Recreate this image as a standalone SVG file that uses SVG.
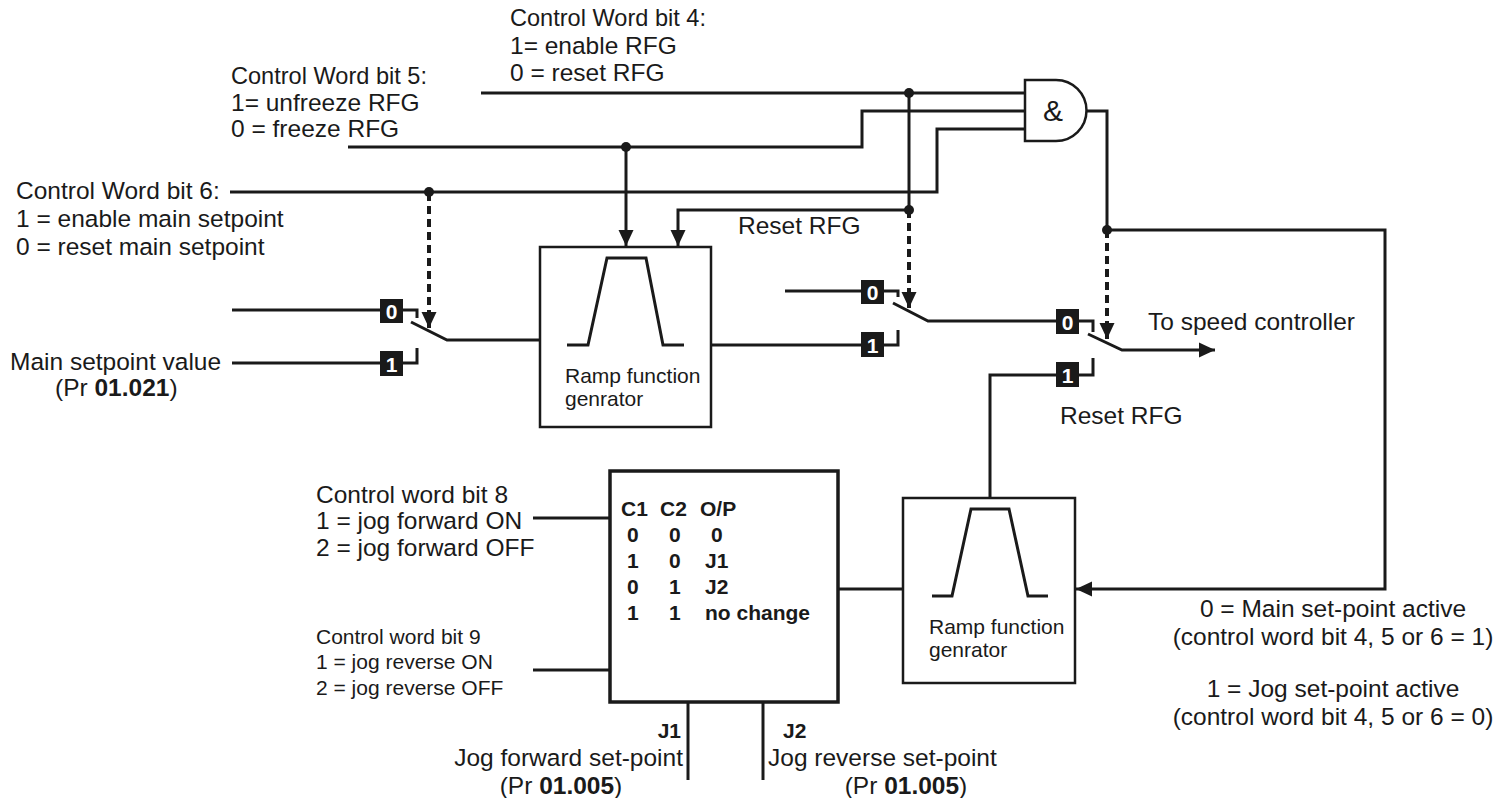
<svg xmlns="http://www.w3.org/2000/svg" width="1500" height="798" viewBox="0 0 1500 798">
<defs>
<marker id="ah" markerUnits="userSpaceOnUse" markerWidth="16" markerHeight="16" viewBox="0 0 16 16" refX="16" refY="8" orient="auto">
<path d="M0,0.5 L16,8 L0,15.5 Z" fill="#1a1a1a"/>
</marker>
</defs>
<style>
.t{font-family:"Liberation Sans",Arial,sans-serif;font-size:24.5px;fill:#1a1a1a}
.s{font-size:21px}
.b{font-weight:bold}
.w{stroke:#1a1a1a;stroke-width:3;fill:none}
.d{stroke:#1a1a1a;stroke-width:4;stroke-dasharray:8 5;fill:none}
.box{fill:#fff;stroke:#1a1a1a;stroke-width:2.5}
.lab{fill:#1a1a1a}
.lt{font-family:"Liberation Sans",Arial,sans-serif;font-weight:bold;font-size:21px;fill:#fff;text-anchor:middle}
.dot{fill:#1a1a1a}
</style>
<rect width="1500" height="798" fill="#fff"/>

<g id="connectors">
<!-- bit 4 -->
<path class="w" d="M481,93 H1025"/>
<path class="w" d="M909,93 V210"/>
<path class="w" d="M909,210 H678 V246" marker-end="url(#ah)"/>
<!-- bit 5 -->
<path class="w" d="M348,147 H862 V111 H1025"/>
<path class="w" d="M626,147 V246" marker-end="url(#ah)"/>
<!-- bit 6 -->
<path class="w" d="M230,192 H937 V129 H1025"/>
<!-- gate output -->
<path class="w" d="M1087,111 H1107 V230 H1385 V589 H1076" marker-end="url(#ah)"/>
<!-- dotted controls -->
<path class="d" d="M429,193 V328" marker-end="url(#ah)"/>
<path class="d" d="M909,210 V308" marker-end="url(#ah)"/>
<path class="d" d="M1107,230 V339" marker-end="url(#ah)"/>
<!-- switch 1 -->
<path class="w" d="M232,310 H417 V318"/>
<path class="w" d="M232,363 H417 V348"/>
<path class="w" d="M411,322 L447,340 H540"/>
<!-- switch 2 -->
<path class="w" d="M785,291 H898 V297"/>
<path class="w" d="M711,345 H898 V330"/>
<path class="w" d="M893,303 L928,321 H1093 V332"/>
<!-- switch 3 -->
<path class="w" d="M990,498 V375 H1093 V358"/>
<path class="w" d="M1088,334 L1122,350 H1215" marker-end="url(#ah)"/>
<!-- jog -->
<path class="w" d="M533,518 H610"/>
<path class="w" d="M533,670 H610"/>
<path class="w" d="M838,589 H903"/>
<path class="w" d="M688,702 V780"/>
<path class="w" d="M763,702 V780"/>
<!-- junction dots -->
<circle class="dot" cx="909" cy="93" r="5"/>
<circle class="dot" cx="909" cy="210" r="5"/>
<circle class="dot" cx="626" cy="147" r="5"/>
<circle class="dot" cx="429" cy="192" r="5"/>
<circle class="dot" cx="1107" cy="230" r="5"/>
</g>

<g id="and-gate">
<path d="M1025,80 H1056 A30.5,30.5 0 0 1 1056,141 H1025 Z" fill="#fff" stroke="#1a1a1a" stroke-width="2.5"/>
<text class="t" x="1053" y="121" text-anchor="middle" style="font-size:30px">&amp;</text>
</g>

<g id="rfg1">
<rect class="box" x="540" y="247" width="171" height="180"/>
<path class="w" d="M567,345 H588 L607,258 H646 L663,345 H684"/>
<text class="t s" x="565" y="383">Ramp function</text>
<text class="t s" x="565" y="406">genrator</text>
</g>

<g id="rfg2">
<rect class="box" x="903" y="498" width="172" height="185"/>
<path class="w" d="M932,596 H952 L971,509 H1009 L1028,596 H1048"/>
<text class="t s" x="929" y="634">Ramp function</text>
<text class="t s" x="929" y="657">genrator</text>
</g>

<g id="jog-logic">
<rect x="610" y="471" width="228" height="231" fill="#fff" stroke="#1a1a1a" stroke-width="3.5"/>
<g class="t b s">
<text x="621" y="516">C1</text><text x="660" y="516">C2</text><text x="700" y="516">O/P</text>
<text x="627" y="542">0</text><text x="669" y="542">0</text><text x="711" y="542">0</text>
<text x="627" y="568">1</text><text x="669" y="568">0</text><text x="705" y="568">J1</text>
<text x="627" y="594">0</text><text x="669" y="594">1</text><text x="705" y="594">J2</text>
<text x="627" y="620">1</text><text x="669" y="620">1</text><text x="705" y="620">no change</text>
</g>
</g>

<g id="switch-1">
<rect class="lab" x="380" y="299" width="23" height="24"/><text class="lt" x="391.5" y="319">0</text>
<rect class="lab" x="380" y="351" width="23" height="25"/><text class="lt" x="391.5" y="372">1</text>
</g>
<g id="switch-2">
<rect class="lab" x="861" y="280" width="23" height="24"/><text class="lt" x="872.5" y="300">0</text>
<rect class="lab" x="861" y="332" width="23" height="25"/><text class="lt" x="872.5" y="353">1</text>
</g>
<g id="switch-3">
<rect class="lab" x="1056" y="309" width="23" height="25"/><text class="lt" x="1067.5" y="330">0</text>
<rect class="lab" x="1056" y="362" width="23" height="25"/><text class="lt" x="1067.5" y="383">1</text>
</g>

<g id="labels">
<text class="t" x="510" y="26" textLength="196" lengthAdjust="spacingAndGlyphs">Control Word bit 4:</text>
<text class="t" x="510" y="54">1= enable RFG</text>
<text class="t" x="510" y="81">0 = reset RFG</text>
<text class="t" x="231" y="84" textLength="196" lengthAdjust="spacingAndGlyphs">Control Word bit 5:</text>
<text class="t" x="231" y="111">1= unfreeze RFG</text>
<text class="t" x="231" y="137">0 = freeze RFG</text>
<text class="t" x="16" y="199">Control Word bit 6:</text>
<text class="t" x="16" y="227">1 = enable main setpoint</text>
<text class="t" x="16" y="255">0 = reset main setpoint</text>
<text class="t" x="738" y="234">Reset RFG</text>
<text class="t" x="10" y="370">Main setpoint value</text>
<text class="t" x="55" y="396">(Pr <tspan class="b">01.021</tspan>)</text>
<text class="t" x="1148" y="330">To speed controller</text>
<text class="t" x="1060" y="424">Reset RFG</text>
<text class="t" x="316" y="503">Control word bit 8</text>
<text class="t" x="316" y="529">1 = jog forward ON</text>
<text class="t" x="316" y="556">2 = jog forward OFF</text>
<text class="t s" x="316" y="644">Control word bit 9</text>
<text class="t s" x="316" y="669">1 = jog reverse ON</text>
<text class="t s" x="316" y="695">2 = jog reverse OFF</text>
<text class="t b s" x="681" y="738" text-anchor="end">J1</text>
<text class="t" x="683" y="766" text-anchor="end">Jog forward set-point</text>
<text class="t" x="561" y="794" text-anchor="middle">(Pr <tspan class="b">01.005</tspan>)</text>
<text class="t b s" x="783" y="738">J2</text>
<text class="t" x="768" y="766">Jog reverse set-point</text>
<text class="t" x="906" y="794" text-anchor="middle">(Pr <tspan class="b">01.005</tspan>)</text>
<text class="t" x="1333" y="617" text-anchor="middle">0 = Main set-point active</text>
<text class="t" x="1333" y="645" text-anchor="middle">(control word bit 4, 5 or 6 = 1)</text>
<text class="t" x="1333" y="697" text-anchor="middle">1 = Jog set-point active</text>
<text class="t" x="1333" y="725" text-anchor="middle">(control word bit 4, 5 or 6 = 0)</text>
</g>
</svg>
